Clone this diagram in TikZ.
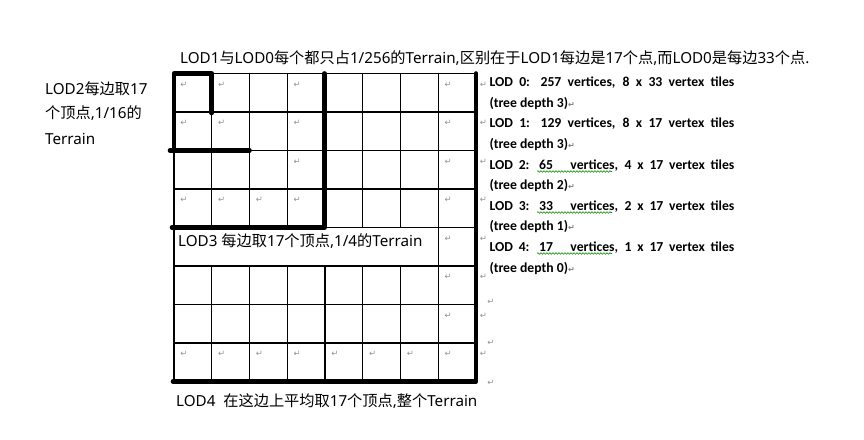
\documentclass[tikz,border=0pt]{standalone}
\usepackage{fontspec}
\setmainfont{Carlito}
\newfontfamily\cjkfont{Noto Sans CJK SC}
\newfontfamily\latfont{Noto Sans}
\newfontfamily\dvfont{DejaVu Sans}
\usetikzlibrary{decorations.pathmorphing}
\newcommand\retmk{{\dvfont\fontsize{8}{9}\selectfont\textcolor{gray}{↵}}}
\newcommand\C[1]{{\cjkfont #1}}
\begin{document}
\begin{tikzpicture}[x=1pt,y=-1pt,
  gridline/.style={line width=1.2pt, black},
  heavy/.style={line width=4.6pt, black, line cap=round, line join=round},
  cjktext/.style={font=\latfont\fontsize{15.2}{18}\selectfont, inner sep=0pt, anchor=base west},
  lodtext/.style={font=\bfseries\fontsize{13.7}{16}\selectfont, inner sep=0pt, anchor=base west},
  ret/.style={font=\dvfont\fontsize{8.5}{9}\selectfont, text=gray!85, inner sep=0pt},
  squiggle/.style={draw=green!55!black, line width=0.6pt, decorate, decoration={snake, amplitude=0.8pt, segment length=3pt}}
]
\useasboundingbox (0,0) rectangle (864,439);
\fill[white] (0,0) rectangle (864,439);
% grid
\foreach \i in {1,...,6} {
  \draw[gridline] ({174+\i*37.75},73.5) -- ({174+\i*37.75},227.5);
  \draw[gridline] ({174+\i*37.75},266) -- ({174+\i*37.75},381.5);
}
\draw[gridline] (438.25,73.5) -- (438.25,381.5);
\draw[gridline] (174,73.5) -- (174,381.5);
\foreach \j in {0,...,8} {
  \draw[gridline] (174,{73.5+\j*38.5}) -- (476,{73.5+\j*38.5});
}
% heavy borders
\draw[heavy] (211.75,113) -- (211.75,73.5) -- (174,73.5) -- (174,150.5);
\draw[heavy] (170,150.5) -- (249.5,150.5);
\draw[heavy] (324.5,73.5) -- (324.5,227.5) -- (172,227.5);
\draw[heavy] (476,73.5) -- (476,381.5) -- (173,381.5);
% paragraph marks in cells
\foreach \r/\c in {1/1,1/2,1/4,1/8, 2/1,2/2,2/4,2/8, 3/4,3/8, 4/1,4/2,4/3,4/4,4/8, 5/8, 6/8, 7/8,
                   8/1,8/2,8/3,8/4,8/5,8/6,8/7,8/8} {
  \node[ret] (m-\r-\c) at ({174+(\c-1)*37.75+10},{73.5+(\r-1)*38.5+11}) {↵};
}
\foreach \r in {1,...,8} {
  \node[ret] (e-\r) at (483.5,{73.5+(\r-1)*38.5+11}) {↵};
}
\node[ret] (p1) at (491,302) {↵};
\node[ret] (p2) at (491,343) {↵};
\node[ret] (p3) at (491,383) {↵};
% texts
\node[cjktext] (top) at (180,63.5) {LOD1\C{与}LOD0\C{每个都只占}1/256\C{的}Terrain,\C{区别在于}LOD1\C{每边是}17\C{个点},\C{而}LOD0\C{是每边}33\C{个点}.};
\node[cjktext] (lod2a) at (45,94) {LOD2\C{每边取}17};
\node[cjktext] (lod2b) at (45,118.5) {\C{个顶点},1/16\C{的}};
\node[cjktext] (lod2c) at (45,144) {Terrain};
\node[cjktext] (lod3) at (178,246.7) {LOD3 \C{每边取}17\C{个顶点},1/4\C{的}Terrain};
\node[cjktext] (lod4) at (176,406.7) {LOD4\ \ \C{在这边上平均取}17\C{个顶点},\C{整个}Terrain};
% right column
\node[lodtext] (r0) at (489.3,86.7) {\makebox[245pt][s]{LOD 0: 257 vertices, 8 x 33 vertex tiles}};
\node[lodtext] (t0) at (489.3,107.3) {(tree depth 3)\retmk};
\node[lodtext] (r1) at (489.3,127.9) {\makebox[245pt][s]{LOD 1: 129 vertices, 8 x 17 vertex tiles}};
\node[lodtext] (t1) at (489.3,148.5) {(tree depth 3)\retmk};
\node[lodtext] (r2) at (489.3,169.1) {\makebox[245pt][s]{LOD 2: 65\ \ \ vertices, 4 x 17 vertex tiles}};
\node[lodtext] (t2) at (489.3,189.7) {(tree depth 2)\retmk};
\node[lodtext] (r3) at (489.3,210.3) {\makebox[245pt][s]{LOD 3: 33\ \ \ vertices, 2 x 17 vertex tiles}};
\node[lodtext] (t3) at (489.3,230.9) {(tree depth 1)\retmk};
\node[lodtext] (r4) at (489.3,251.5) {\makebox[245pt][s]{LOD 4: 17\ \ \ vertices, 1 x 17 vertex tiles}};
\node[lodtext] (t4) at (489.3,272.1) {(tree depth 0)\retmk};
% grammar squiggles
\draw[squiggle] (537,171.5) -- (612,171.5);
\draw[squiggle] (537,212.5) -- (612,212.5);
\draw[squiggle] (537,253.5) -- (612,253.5);
\end{tikzpicture}
\end{document}
